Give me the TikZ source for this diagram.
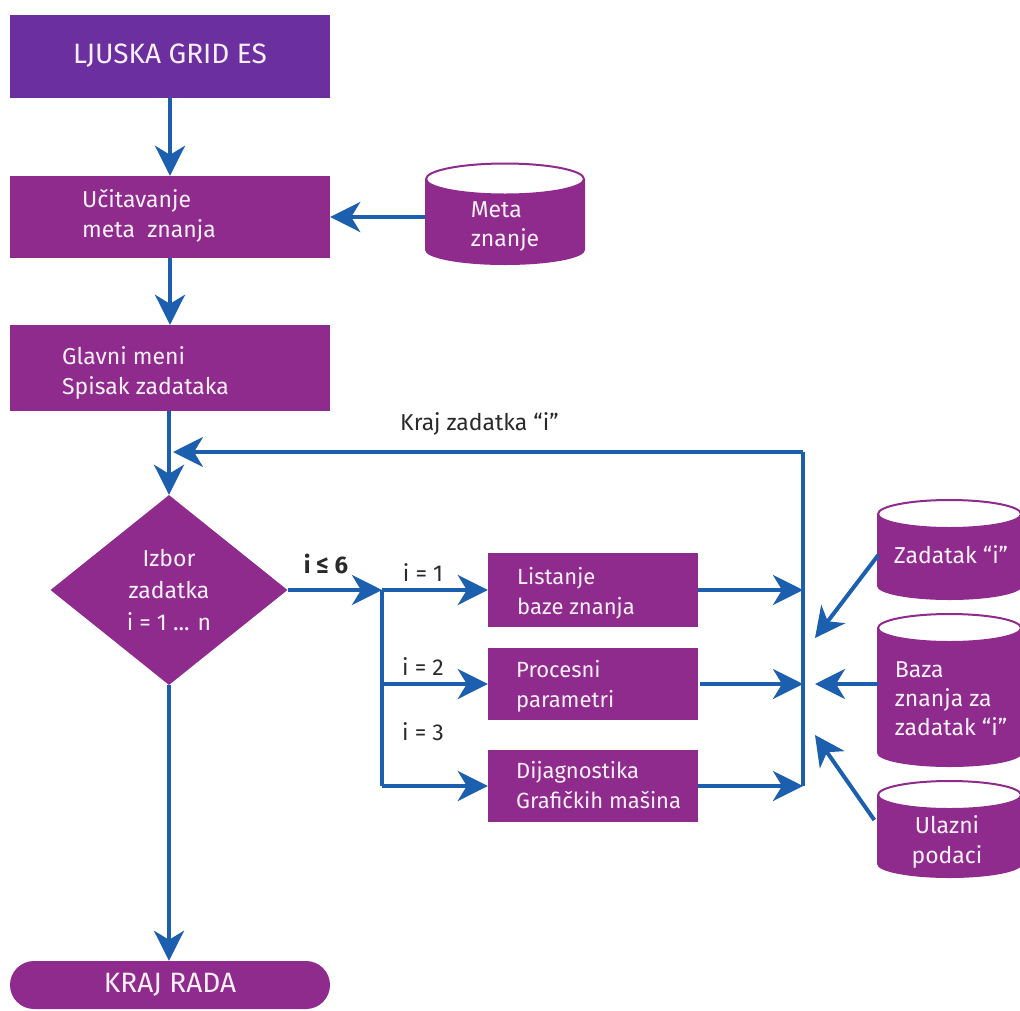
\documentclass[tikz,border=0pt]{standalone}
\usepackage{fontspec}
\setmainfont{Fira Sans}
\usetikzlibrary{arrows.meta, shapes.geometric}
\definecolor{pur}{HTML}{8E2B8C}
\definecolor{vio}{HTML}{6B2FA0}
\definecolor{arblue}{HTML}{1B5FAE}
\definecolor{lbl}{HTML}{2A2A2A}
\definecolor{wtxt}{HTML}{FBF0FA}
\begin{document}
\begin{tikzpicture}[x=1pt,y=1pt,
  pbox/.style={fill=pur, inner sep=0pt, text=wtxt},
  btext/.style={text=wtxt, font=\fontsize{23}{30}\selectfont, align=left, inner sep=0pt, anchor=west},
  ctext/.style={text=wtxt, font=\fontsize{23}{29}\selectfont, inner sep=0pt},
  conn/.style={draw=arblue, line width=4pt},
  arr/.style={conn, -{Stealth[length=30pt,width=30pt,inset=9pt]}},
  lab/.style={text=lbl, font=\fontsize{23}{27}\selectfont, inner sep=0pt},
  cylend/.style={draw=pur, fill=white, line width=2pt}
]
\useasboundingbox (0,0) rectangle (1020,-1010);
\clip (0,0) rectangle (1020,-1010);

% main column boxes
\node[pbox, fill=vio, minimum width=320, minimum height=83, font=\fontsize{28}{32}\selectfont] (top) at (170,-56) {LJUSKA GRID ES};
\node[pbox, minimum width=320, minimum height=82] (ucit) at (170,-217) {};
\node[btext] (ucitt) at (82,-216) {Učitavanje\\meta\ \ znanja};
\node[pbox, minimum width=320, minimum height=86] (glav) at (170,-368) {};
\node[btext] (glavt) at (62,-373) {Glavni meni\\Spisak zadataka};
\node[diamond, fill=pur, minimum width=237, minimum height=190, aspect=1.25, inner sep=0pt,
      text=wtxt, align=center, font=\fontsize{23}{32}\selectfont] (izb) at (169,-590) {Izbor\\zadatka\\i = 1 ... n};
\node[pbox, rounded corners=24pt, minimum width=320, minimum height=48, font=\fontsize{28}{32}\selectfont] (kraj) at (170,-985) {KRAJ RADA};

% task boxes
\node[pbox, minimum width=210, minimum height=74] (list) at (593,-590) {};
\node[btext, font=\fontsize{22}{30}\selectfont] (listt) at (517,-593) {Listanje\\baze znanja};
\node[pbox, minimum width=210, minimum height=72] (proc) at (593,-684) {};
\node[btext, font=\fontsize{22}{30}\selectfont] (proct) at (516,-686) {Procesni\\parametri};
\node[pbox, minimum width=210, minimum height=72] (dij) at (593,-786) {};
\node[btext, font=\fontsize{22}{30}\selectfont] (dijt) at (516,-785) {Dijagnostika\\Grafičkih mašina};

% cylinders
\fill[pur] (425,-179) -- (425,-250) arc[start angle=180,end angle=360,x radius=80,y radius=15] -- (585,-179) -- cycle;
\draw[cylend] (505,-179) ellipse[x radius=79, y radius=15.5];
\node[ctext, align=left, minimum width=160] (meta) at (505,-227) {Meta\\znanje};

\fill[pur] (877,-514) -- (877,-586) arc[start angle=180,end angle=360,x radius=72.5,y radius=14] -- (1022,-514) -- cycle;
\draw[cylend] (949.5,-514) ellipse[x radius=71.5, y radius=14];
\node[ctext, minimum width=145] (zad) at (951,-555) {Zadatak “i”};

\fill[pur] (877,-628) -- (877,-753) arc[start angle=180,end angle=360,x radius=72.5,y radius=14] -- (1022,-628) -- cycle;
\draw[cylend] (949.5,-628) ellipse[x radius=71.5, y radius=14];
\node[ctext, align=left, minimum width=145] (baza) at (951,-699) {Baza\\znanja za\\zadatak “i”};

\fill[pur] (877,-795) -- (877,-864) arc[start angle=180,end angle=360,x radius=72.5,y radius=14] -- (1022,-795) -- cycle;
\draw[cylend] (949.5,-795) ellipse[x radius=71.5, y radius=14];
\node[ctext, align=center, minimum width=145, font=\fontsize{23}{30}\selectfont] (ul) at (947,-842) {Ulazni\\podaci};

% coordinates
\coordinate (fbr) at (803,-452);
\coordinate (br) at (382,-590);
\coordinate (h1) at (815,-638);
\coordinate (h2) at (815,-684);
\coordinate (h3) at (815,-735);

% main flow
\draw[arr] (top.south) -- (top.south |- ucit.north);
\draw[arr] (meta.west |- ucit.east) -- (ucit.east);
\draw[arr] (ucit.south) -- (glav.north);
\draw[arr] (glav.south -| izb.north) -- (izb.north);
\draw[arr] (izb.south) -- (izb.south |- kraj.north);

% feedback loop
\draw[conn] (fbr |- dij.east) -- (fbr);
\draw[arr] (fbr) -- ([xshift=4pt]fbr -| izb.north);
\node[lab, anchor=base west] (kz) at (400,-430) {Kraj zadatka “i”};

% branches
\draw[arr] (izb.east) -- (br);
\node[lab, font=\fontsize{24}{27}\selectfont\bfseries] (le6) at (326,-564) {i ≤ 6};
\draw[conn] (br) -- (br |- dij.west);
\draw[arr] (br |- list.west) -- (list.west);
\draw[arr] (br |- proc.west) -- (proc.west);
\draw[arr] (br |- dij.west) -- (dij.west);
\node[lab] (l1) at (423,-573) {i = 1};
\node[lab] (l2) at (423,-667) {i = 2};
\node[lab] (l3) at (423,-732) {i = 3};

% outputs
\draw[arr] (list.east) -- (list.east -| fbr);
\draw[arr] ([xshift=2pt]proc.east) -- (proc.east -| fbr);
\draw[arr] (dij.east) -- (dij.east -| fbr);

% inputs
\draw[arr] (zad.west) -- (h1);
\draw[arr] (baza.west |- h2) -- (h2);
\draw[arr] ([yshift=22pt]ul.west) -- (h3);
\end{tikzpicture}
\end{document}
